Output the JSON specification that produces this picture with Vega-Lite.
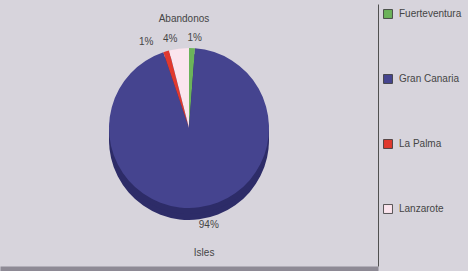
{
  "$schema": "https://vega.github.io/schema/vega-lite/v6.json",
  "width": 378,
  "height": 262,
  "padding": {"top": 4, "left": 0, "right": 10, "bottom": 0},
  "background": "#d7d4dc",
  "config": {"view": {"stroke": null}, "font": "Liberation Sans"},
  "title": {"text": "Abandonos", "fontSize": 10, "fontWeight": "normal", "color": "#454545", "offset": -20, "anchor": "middle", "dx": -5, "font": "Liberation Sans"},
  "data": {"values": [
    {"isla": "Fuerteventura", "value": 0.012},
    {"isla": "Gran Canaria", "value": 0.936},
    {"isla": "La Palma", "value": 0.012},
    {"isla": "Lanzarote", "value": 0.04}
  ]},
  "layer": [
    {
      "mark": {"type": "arc", "outerRadius": 80, "yOffset": 5, "color": "#2d2c68"},
      "encoding": {"theta": {"field": "value", "type": "quantitative", "stack": true}}
    },
    {
      "mark": {"type": "arc", "outerRadius": 80, "yOffset": -1, "color": "#2d2c68"},
      "encoding": {"theta": {"field": "value", "type": "quantitative", "stack": true}}
    },
    {
      "mark": {"type": "arc", "outerRadius": 80, "yOffset": -7},
      "encoding": {
        "theta": {"field": "value", "type": "quantitative", "stack": true},
        "order": {"field": "isla", "type": "ordinal", "sort": "ascending"},
        "color": {
          "field": "isla", "type": "nominal",
          "scale": {"domain": ["Fuerteventura", "Gran Canaria", "La Palma", "Lanzarote"], "range": ["#6cb35a", "#45448f", "#e0392e", "#fbe5ee"]},
          "legend": {"orient": "right", "title": null, "offset": 0, "padding": 5, "rowPadding": 51, "symbolType": "square", "symbolSize": 80, "symbolStrokeColor": "#333333", "symbolStrokeWidth": 0.8, "labelFontSize": 10, "labelColor": "#454545", "labelOffset": 6, "labelFont": "Liberation Sans"}
        }
      }
    },
    {
      "mark": {"type": "text", "radius": {"expr": "datum.value > 0.5 ? 98 : 90"}, "yOffset": -7, "dx": {"expr": "60 * sin(PI * (datum.value_start + datum.value_end))"}, "fontSize": 10, "color": "#454545", "font": "Liberation Sans"},
      "encoding": {
        "theta": {"field": "value", "type": "quantitative", "stack": true},
        "order": {"field": "isla", "type": "ordinal", "sort": "ascending"},
        "text": {"field": "value", "type": "quantitative", "format": ".0%"}
      }
    },
    {
      "data": {"values": [{"t": "Isles"}]},
      "mark": {"type": "text", "fontSize": 10, "color": "#454545", "font": "Liberation Sans"},
      "encoding": {
        "text": {"field": "t", "type": "nominal"},
        "x": {"datum": 0.54, "type": "quantitative", "scale": {"domain": [0, 1]}, "axis": {"domainWidth": 10, "domainColor": "#8e8a95", "domainCap": "butt", "offset": 5, "ticks": false, "labels": false, "title": null, "grid": false}},
        "y": {"datum": 0.05, "type": "quantitative", "scale": {"domain": [0, 1]}, "axis": {"orient": "right", "domainColor": "#505050", "ticks": false, "labels": false, "title": null, "grid": false}}
      }
    }
  ]
}
